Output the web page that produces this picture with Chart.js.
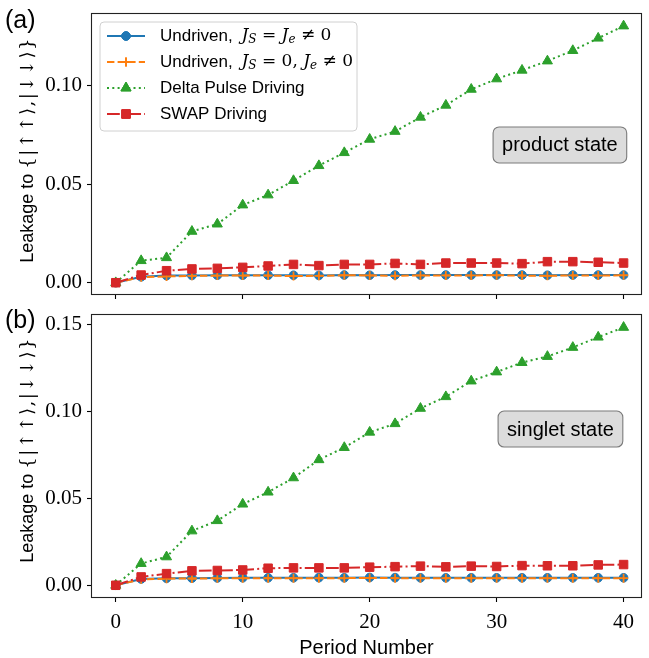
<!DOCTYPE html>
<html>
<head>
<meta charset="utf-8">
<script src="https://cdn.jsdelivr.net/npm/chart.js@4.4.1/dist/chart.umd.min.js"></script>
<style>
  body { margin: 0; background: #fff; }
  .panel { position: relative; width: 649px; }
  canvas { display: block; }
</style>
</head>
<body>
<div class="panel" style="height:305px"><canvas id="chartA" width="649" height="305"></canvas></div>
<div class="panel" style="height:353px"><canvas id="chartB" width="649" height="353"></canvas></div>
<script>
// Data
const periods = [0, 2, 4, 6, 8, 10, 12, 14, 16, 18, 20, 22, 24, 26, 28, 30, 32, 34, 36, 38, 40];
const xTicks = [0, 10, 20, 30, 40];
const yTicksA = [0, 0.05, 0.10];
const yTicksB = [0, 0.05, 0.10, 0.15];

// (a) product state
const undrivenA = [0, 0.0030, 0.0036, 0.0037, 0.0038, 0.0038, 0.0038, 0.0038, 0.0037, 0.0039, 0.0038, 0.0039, 0.0039, 0.0039, 0.0039, 0.0039, 0.0039, 0.0038, 0.0039, 0.0039, 0.0039];
const undrivenZeroA = [0, 0.0028, 0.0032, 0.0035, 0.0036, 0.0036, 0.0036, 0.0034, 0.0035, 0.0038, 0.0037, 0.0035, 0.0037, 0.0037, 0.0037, 0.0038, 0.0036, 0.0035, 0.0037, 0.0036, 0.0038];
const deltaA = [0, 0.0112, 0.0127, 0.0261, 0.0298, 0.0395, 0.0446, 0.0519, 0.0595, 0.0661, 0.0729, 0.0769, 0.0841, 0.0902, 0.0983, 0.1036, 0.1080, 0.1127, 0.1180, 0.1243, 0.1305];
const swapA = [0, 0.0039, 0.0061, 0.0070, 0.0073, 0.0078, 0.0085, 0.0093, 0.0087, 0.0093, 0.0093, 0.0098, 0.0093, 0.0100, 0.0100, 0.0100, 0.0097, 0.0107, 0.0107, 0.0104, 0.0100];

// (b) singlet state
const undrivenB = [0, 0.0036, 0.0040, 0.0041, 0.0042, 0.0043, 0.0043, 0.0043, 0.0044, 0.0043, 0.0045, 0.0044, 0.0043, 0.0043, 0.0043, 0.0043, 0.0043, 0.0043, 0.0043, 0.0043, 0.0043];
const undrivenZeroB = [0, 0.0034, 0.0038, 0.0039, 0.0040, 0.0041, 0.0041, 0.0041, 0.0041, 0.0041, 0.0042, 0.0041, 0.0041, 0.0041, 0.0041, 0.0041, 0.0041, 0.0041, 0.0041, 0.0041, 0.0041];
const deltaB = [0, 0.0125, 0.0163, 0.0312, 0.0371, 0.0466, 0.0535, 0.0617, 0.0721, 0.0791, 0.0879, 0.0928, 0.1016, 0.1083, 0.1173, 0.1225, 0.1279, 0.1314, 0.1366, 0.1425, 0.1481];
const swapB = [0, 0.0048, 0.0067, 0.0083, 0.0085, 0.0088, 0.0098, 0.0100, 0.0100, 0.0100, 0.0104, 0.0107, 0.0110, 0.0106, 0.0110, 0.0108, 0.0113, 0.0112, 0.0112, 0.0117, 0.0119];

const BLUE = '#1f77b4', ORANGE = '#ff7f0e', GREEN = '#2ca02c', RED = '#d62728';
const SANS = '"Liberation Sans", Arial, sans-serif';
const SERIF = '"Liberation Serif", "DejaVu Serif", serif';
const MATH = '"DejaVu Serif", serif';

// series styles (line + marker), shared by plot and legend
const styles = [
  { color: BLUE, dash: [], marker: 'circle', radius: 4.3, order: 4 },
  { color: ORANGE, dash: [7.4, 3.2], marker: 'cross', radius: 4.5, order: 3 },
  { color: GREEN, dash: [2, 3.3], marker: 'triangle', radius: 5.8, order: 2 },
  { color: RED, dash: [12.8, 3.2, 2, 3.2], marker: 'rect', radius: 6, order: 1 }
];

function toPoints(values) {
  return periods.map((p, i) => ({ x: p, y: values[i] }));
}

function makeDataset(values, st) {
  return {
    data: toPoints(values),
    borderColor: st.color,
    backgroundColor: st.color,
    borderWidth: 2,
    borderDash: st.dash,
    pointStyle: st.marker,
    pointRadius: st.radius,
    pointHoverRadius: st.radius,
    pointBackgroundColor: st.color,
    pointBorderColor: st.color,
    pointBorderWidth: st.marker === 'cross' ? 1.8 : 1,
    tension: 0,
    fill: false,
    order: st.order,
    clip: false
  };
}

// draws text runs with mixed fonts, starting at x (sp = extra space after each char)
function drawRuns(ctx, x, y, runs) {
  runs.forEach(r => {
    ctx.font = r.font;
    if (r.sp) {
      for (const ch of r.t) {
        ctx.fillText(ch, x, y + (r.dy || 0));
        x += ctx.measureText(ch).width + r.sp;
      }
    } else {
      ctx.fillText(r.t, x + (r.dx || 0), y + (r.dy || 0));
      x += ctx.measureText(r.t).width + (r.dx || 0);
    }
  });
  return x;
}

function runsWidth(ctx, runs) {
  let w = 0;
  runs.forEach(r => {
    ctx.font = r.font;
    w += ctx.measureText(r.t).width + (r.sp ? r.sp * [...r.t].length : 0) + (r.dx || 0);
  });
  return w;
}

const mathI = 'italic 17px ' + MATH;
const mathS = 'italic 12px ' + MATH;
const mathR = '17px ' + MATH;
const legendSans = '17px ' + SANS;

const legendLabels = [
  [{ t: 'Undriven, ', font: legendSans }, { t: 'J', font: mathI, dx: 4 }, { t: 'S', font: mathS, dy: 4 },
   { t: ' = ', font: mathR }, { t: 'J', font: mathI }, { t: 'e', font: mathS, dy: 4 }, { t: ' \u2260 0', font: mathR }],
  [{ t: 'Undriven, ', font: legendSans }, { t: 'J', font: mathI, dx: 4 }, { t: 'S', font: mathS, dy: 4 },
   { t: ' = 0, ', font: mathR }, { t: 'J', font: mathI }, { t: 'e', font: mathS, dy: 4 }, { t: ' \u2260 0', font: mathR }],
  [{ t: 'Delta Pulse Driving', font: legendSans }],
  [{ t: 'SWAP Driving', font: legendSans }]
];

const yTitleRuns = [
  { t: 'Leakage to ', font: '18px ' + SANS },
  { t: '{|\u2191\u2191\u27E9,|\u2193\u2193\u27E9}', font: '18px ' + MATH, sp: 1.5 }
];

function roundRect(ctx, x, y, w, h, r) {
  ctx.beginPath();
  ctx.moveTo(x + r, y);
  ctx.arcTo(x + w, y, x + w, y + h, r);
  ctx.arcTo(x + w, y + h, x, y + h, r);
  ctx.arcTo(x, y + h, x, y, r);
  ctx.arcTo(x, y, x + w, y, r);
  ctx.closePath();
}

// Frame, panel letter, y title, state box and legend
const decorPlugin = {
  id: 'decor',
  afterDraw(chart, args, opts) {
    const ctx = chart.ctx;
    const a = chart.chartArea;
    ctx.save();

    // full box around the axes
    ctx.strokeStyle = '#222';
    ctx.lineWidth = 1.1;
    ctx.strokeRect(a.left + 0.5, a.top + 0.5, a.right - a.left - 1, a.bottom - a.top - 1);

    // panel letter
    ctx.fillStyle = '#000';
    ctx.font = '25px ' + SANS;
    ctx.textBaseline = 'middle';
    ctx.textAlign = 'left';
    ctx.fillText(opts.letter, 5, opts.letterY);

    // y axis title
    ctx.save();
    ctx.translate(33, (a.top + a.bottom) / 2 + opts.titleShift);
    ctx.rotate(-Math.PI / 2);
    ctx.textBaseline = 'alphabetic';
    const tw = runsWidth(ctx, yTitleRuns);
    drawRuns(ctx, -tw / 2, 0, yTitleRuns);
    ctx.restore();

    // state label box
    ctx.font = '20px ' + SANS;
    ctx.textBaseline = 'middle';
    const bw = ctx.measureText(opts.boxText).width + 18;
    const bh = 36;
    const cx = a.left + opts.boxX * (a.right - a.left);
    const cy = a.top + opts.boxY * (a.bottom - a.top);
    roundRect(ctx, cx - bw / 2, cy - bh / 2, bw, bh, 6);
    ctx.fillStyle = '#dcdcdc';
    ctx.fill();
    ctx.strokeStyle = '#7a7a7a';
    ctx.lineWidth = 1.1;
    ctx.stroke();
    ctx.fillStyle = '#000';
    ctx.textAlign = 'center';
    ctx.fillText(opts.boxText, cx, cy + 1);

    // legend
    if (opts.legend) {
      const lx = a.left + 9, ly = a.top + 9, lw = 257, lh = 109;
      roundRect(ctx, lx, ly, lw, lh, 4);
      ctx.fillStyle = 'rgba(255,255,255,0.85)';
      ctx.fill();
      ctx.strokeStyle = '#d0d0d0';
      ctx.lineWidth = 1;
      ctx.stroke();
      ctx.textAlign = 'left';
      ctx.textBaseline = 'middle';
      styles.forEach((st, i) => {
        const yy = ly + 14 + i * 26;
        ctx.strokeStyle = st.color;
        ctx.lineWidth = 2;
        ctx.setLineDash(st.dash);
        ctx.beginPath();
        ctx.moveTo(lx + 7, yy);
        ctx.lineTo(lx + 45, yy);
        ctx.stroke();
        ctx.setLineDash([]);
        ctx.fillStyle = st.color;
        ctx.lineWidth = st.marker === 'cross' ? 1.8 : 1;
        Chart.helpers.drawPoint(ctx, { pointStyle: st.marker, radius: st.radius, rotation: 0, borderWidth: 1 }, lx + 26, yy);
        ctx.fill();
        ctx.stroke();
        ctx.fillStyle = '#000';
        drawRuns(ctx, lx + 60, yy, legendLabels[i]);
      });
    }
    ctx.restore();
  }
};

// keep the plot area where the reference has it: no extra room for end labels
function noPad(s) {
  s.paddingTop = 0;
  s.paddingBottom = 0;
  s.paddingLeft = 0;
  s.paddingRight = 0;
}

function makeChart(id, series, yMin, yMax, yTicks, showXLabels, xHeight, padTop, decor) {
  const ctx = document.getElementById(id);
  return new Chart(ctx, {
    type: 'line',
    data: {
      datasets: series.map((vals, i) => makeDataset(vals, styles[i]))
    },
    options: {
      responsive: false,
      animation: false,
      devicePixelRatio: 1,
      layout: { padding: { top: padTop, right: 1, left: 0, bottom: 0 } },
      scales: {
        x: {
          type: 'linear',
          min: -1.95,
          max: 41.45,
          afterBuildTicks: s => { s.ticks = xTicks.map(v => ({ value: v })); },
          afterFit: s => { s.height = xHeight; noPad(s); },
          border: { display: false },
          grid: { drawOnChartArea: false, drawTicks: true, tickLength: 4, color: '#000', tickWidth: 1.1 },
          ticks: {
            display: showXLabels,
            padding: 8,
            color: '#000',
            maxRotation: 0,
            font: { family: SERIF, size: 21 },
            callback: v => String(v)
          },
          title: {
            display: showXLabels,
            text: 'Period Number',
            color: '#000',
            font: { family: SANS, size: 20, lineHeight: 1.0 },
            padding: { top: 0, bottom: 0 }
          }
        },
        y: {
          type: 'linear',
          min: yMin,
          max: yMax,
          afterBuildTicks: s => { s.ticks = yTicks.map(v => ({ value: v })); },
          afterFit: s => { s.width = 91; noPad(s); },
          border: { display: false },
          grid: { drawOnChartArea: false, drawTicks: true, tickLength: 4, color: '#000', tickWidth: 1.1 },
          ticks: {
            padding: 5,
            color: '#000',
            font: { family: SERIF, size: 21 },
            callback: v => v.toFixed(2)
          }
        }
      },
      plugins: {
        legend: { display: false },
        tooltip: { enabled: false },
        decor: decor
      }
    },
    plugins: [decorPlugin]
  });
}

makeChart('chartA', [undrivenA, undrivenZeroA, deltaA, swapA], -0.00625, 0.1371, yTicksA, false, 10, 13,
  { letter: '(a)', letterY: 21, boxText: 'product state', boxX: 0.851, boxY: 0.468, legend: true, titleShift: -4 });
makeChart('chartB', [undrivenB, undrivenZeroB, deltaB, swapB], -0.0073, 0.1558, yTicksB, true, 60, 9,
  { letter: '(b)', letterY: 16, boxText: 'singlet state', boxX: 0.852, boxY: 0.405, legend: false, titleShift: -6 });
</script>
</body>
</html>
